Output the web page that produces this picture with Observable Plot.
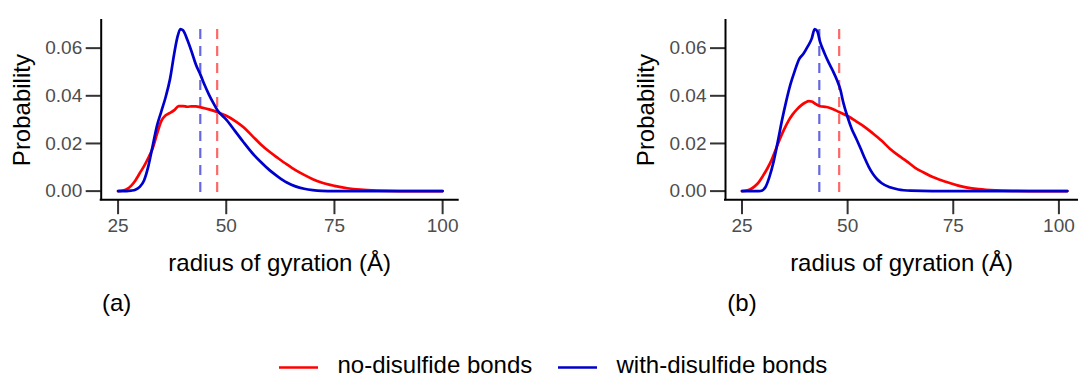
<!DOCTYPE html>
<html>
<head>
<meta charset="utf-8">
<script src="https://cdn.jsdelivr.net/npm/d3@7"></script>
<script src="https://cdn.jsdelivr.net/npm/@observablehq/plot@0.6"></script>
<style>
  body { margin: 0; background: #fff; }
  #root { position: relative; width: 1078px; height: 374px; overflow: hidden; background: #fff; }
  #root > svg { position: absolute; top: 0; }
</style>
</head>
<body>
<div id="root"></div>
<script>
// ---------- data ----------
const seriesNames = ["no-disulfide bonds", "with-disulfide bonds"];
const seriesColors = ["#ff0000", "#0000cd"];
const panelLabels = ["(a)", "(b)"];
const xTicks = [25, 50, 75, 100];
const yTicks = [0, 0.02, 0.04, 0.06];
const xTitle = "radius of gyration (Å)";
const yTitle = "Probability";

// panel (a)
const aNoRg = [25, 26, 27, 28, 29, 30, 31, 32, 33, 34, 35, 36, 37, 38, 39, 40, 41, 42, 43, 44, 46, 48, 50, 52, 54, 56, 58, 60, 62, 64, 66, 68, 70, 72, 75, 78, 81, 85, 90, 100];
const aNoP  = [0, 0.0002, 0.0008, 0.0022, 0.0045, 0.0075, 0.0105, 0.014, 0.018, 0.024, 0.0295, 0.0318, 0.0328, 0.034, 0.0357, 0.0357, 0.0354, 0.0356, 0.0356, 0.0352, 0.0343, 0.0331, 0.0316, 0.0295, 0.0268, 0.0232, 0.0196, 0.0165, 0.0138, 0.0112, 0.0088, 0.0068, 0.005, 0.0036, 0.0022, 0.0012, 0.0006, 0.0002, 0, 0];
const aWithRg = [25, 27, 28, 29, 30, 31, 32, 33, 34, 35, 36, 37, 38, 38.7, 39.4, 40, 41, 42, 43, 44, 45, 46, 47, 48, 50, 52, 54, 56, 58, 60, 62, 64, 66, 68, 70, 72, 75, 100];
const aWithP  = [0, 0, 0.0002, 0.0006, 0.0018, 0.0045, 0.0105, 0.019, 0.0275, 0.0335, 0.0395, 0.047, 0.058, 0.0645, 0.068, 0.0675, 0.0635, 0.0585, 0.053, 0.049, 0.0445, 0.0405, 0.037, 0.0338, 0.03, 0.0253, 0.0205, 0.016, 0.0122, 0.0088, 0.006, 0.0036, 0.002, 0.001, 0.0004, 0.0001, 0, 0];
const aMeans = [47.9, 44.0];

// panel (b)
const bNoRg = [25, 26, 27, 28, 29, 30, 31, 32, 33, 34, 35, 36, 37, 38, 39, 40, 40.8, 41.5, 42.5, 43.5, 45, 46, 48, 50, 52, 54, 56, 58, 60, 62, 64, 66, 68, 70, 72, 74, 76, 78, 81, 85, 90, 95, 102];
const bNoP  = [0, 0.0002, 0.0008, 0.002, 0.0038, 0.0065, 0.0095, 0.013, 0.0175, 0.022, 0.026, 0.0295, 0.0322, 0.0343, 0.036, 0.0372, 0.0378, 0.0376, 0.0365, 0.0356, 0.0353, 0.0348, 0.0332, 0.0315, 0.0293, 0.027, 0.0242, 0.0212, 0.0178, 0.015, 0.0125, 0.0098, 0.0078, 0.006, 0.0047, 0.0035, 0.0024, 0.0016, 0.0008, 0.0003, 0.0001, 0, 0];
const bWithRg = [25, 29, 29.8, 30.5, 31.5, 32.5, 33.5, 34.5, 35.5, 36.5, 37.5, 38.5, 39.5, 40.5, 41.5, 42.2, 42.8, 43.5, 44.5, 45.5, 46.5, 47.5, 48.3, 49, 50, 51, 52, 53, 54, 55, 56, 57, 58, 60, 62, 65, 70, 102];
const bWithP  = [0, 0, 0.0003, 0.0015, 0.006, 0.0125, 0.021, 0.03, 0.038, 0.045, 0.0505, 0.0553, 0.0575, 0.0605, 0.064, 0.068, 0.0672, 0.0625, 0.058, 0.054, 0.0505, 0.0465, 0.0425, 0.037, 0.031, 0.026, 0.0222, 0.0182, 0.014, 0.0102, 0.0072, 0.005, 0.0034, 0.0016, 0.0007, 0.0002, 0, 0];
const bMeans = [48.0, 43.3];

// ---------- helpers ----------
const FONT = "'Liberation Sans', Arial, Helvetica, sans-serif";
const yDomain = [-0.0036, 0.0716];
const yFmt = d3.format(".2f");

function rows(rgNo, pNo, rgWith, pWith) {
  return [
    ...rgNo.map((rg, i) => ({rg, p: pNo[i], series: seriesNames[0]})),
    ...rgWith.map((rg, i) => ({rg, p: pWith[i], series: seriesNames[1]}))
  ];
}

function panel({data, means, xDomain, left, width, marginLeft, marginRight}) {
  const meanRows = means.map((rg, i) => ({rg, series: seriesNames[i]}));
  const svg = Plot.plot({
    width, height: 280,
    marginLeft, marginRight, marginTop: 20, marginBottom: 80.8,
    style: {fontFamily: FONT, fontSize: "19px", background: "transparent", overflow: "visible"},
    x: {domain: xDomain, axis: null},
    y: {domain: yDomain, axis: null},
    color: {domain: seriesNames, range: seriesColors},
    marks: [
      Plot.ruleX(meanRows, {x: "rg", stroke: "series", strokeOpacity: 0.6, strokeWidth: 2.2, strokeDasharray: "10,7", insetTop: 9}),
      Plot.line(data, {x: "rg", y: "p", z: "series", stroke: "series", strokeWidth: 2.7, curve: "monotone-x"}),
      Plot.axisX(xTicks, {tickSize: 15, tickPadding: 4, fontSize: 19, color: "#4d4d4d", stroke: "#333", strokeWidth: 2, label: null}),
      Plot.axisY(yTicks, {tickSize: 15, tickPadding: 4, fontSize: 19, color: "#4d4d4d", stroke: "#333", strokeWidth: 2, tickFormat: yFmt, label: null}),
      Plot.ruleX([xDomain[0]], {stroke: "black", strokeWidth: 2, strokeLinecap: "square"}),
      Plot.ruleY([yDomain[0]], {stroke: "black", strokeWidth: 2, strokeLinecap: "square"}),
      Plot.text([yTitle], {text: d => d, frameAnchor: "left", textAnchor: "middle", dx: -78.7, rotate: -90, fontSize: 24, fill: "black"}),
      Plot.text([xTitle], {text: d => d, frameAnchor: "bottom", textAnchor: "middle", dy: 71, lineAnchor: "bottom", fontSize: 24, fill: "black"})
    ]
  });
  svg.style.left = left + "px";
  // force tick label size (inline style wins over inherited defaults)
  const tickLabels = new Set([...xTicks.map(String), ...yTicks.map(yFmt)]);
  svg.querySelectorAll("text").forEach(t => {
    if (tickLabels.has(t.textContent.trim())) {
      t.style.fontSize = "19px";
      t.style.fontFamily = FONT;
    }
  });
  return svg;
}

const root = document.getElementById("root");
root.appendChild(panel({
  data: rows(aNoRg, aNoP, aWithRg, aWithP), means: aMeans,
  xDomain: [21.1, 103.6], left: 0, width: 539, marginLeft: 100.7, marginRight: 81.3
}));
root.appendChild(panel({
  data: rows(bNoRg, bNoP, bWithRg, bWithP), means: bMeans,
  xDomain: [21.1, 104.4], left: 539, width: 539, marginLeft: 186, marginRight: 1
}));

// ---------- captions and legend ----------
const overlay = d3.create("svg").attr("width", 1078).attr("height", 374)
  .style("left", "0px").style("font-family", FONT);
const capX = [116.7, 742];
panelLabels.forEach((t, i) => {
  overlay.append("text").attr("x", capX[i]).attr("y", 311).attr("text-anchor", "middle")
    .attr("font-size", 24).attr("fill", "black").text(t);
});
const legX = [279, 558];
seriesNames.forEach((name, i) => {
  overlay.append("line").attr("x1", legX[i]).attr("x2", legX[i] + 39).attr("y1", 367.5).attr("y2", 367.5)
    .attr("stroke", seriesColors[i]).attr("stroke-width", 2.4);
  overlay.append("text").attr("x", legX[i] + 58.5).attr("y", 372.5).attr("font-size", 24)
    .attr("fill", "black").text(name);
});
root.appendChild(overlay.node());
</script>
</body>
</html>
